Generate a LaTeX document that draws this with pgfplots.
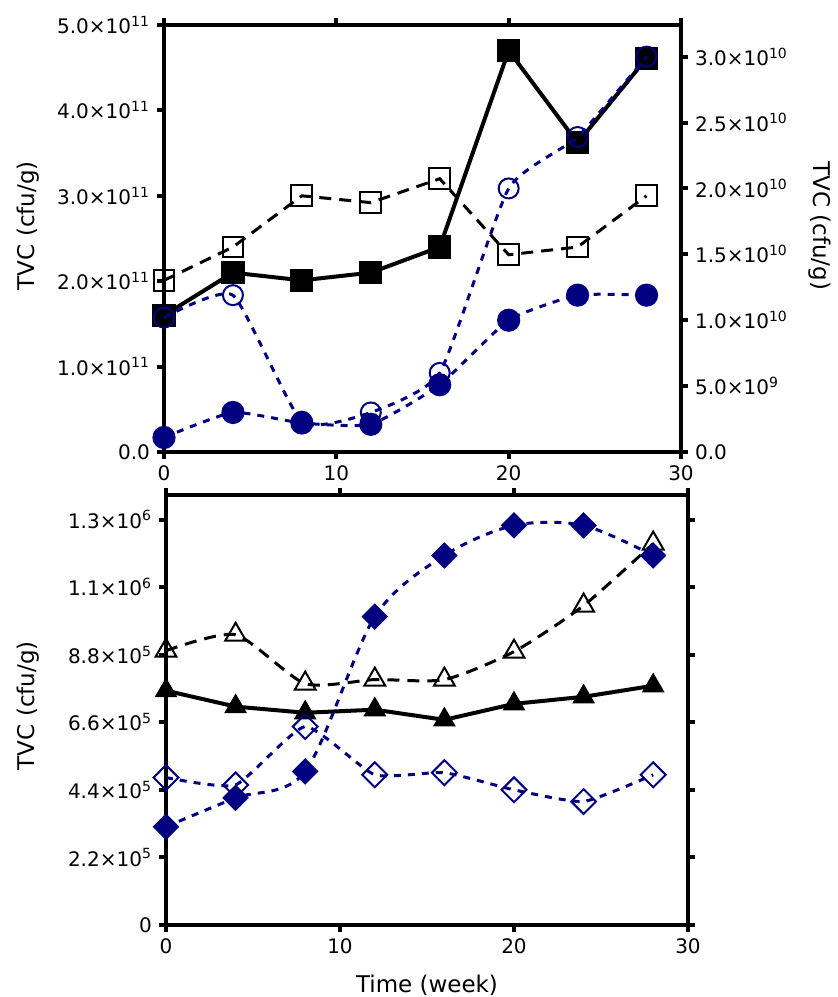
\documentclass[border=0pt]{standalone}
\usepackage{fontspec}
\setmainfont{DejaVu Sans}
\usepackage{pgfplots}
\pgfplotsset{compat=1.18}
\definecolor{navyblue}{HTML}{000080}

\newcommand{\sci}[2]{#1×10\textsuperscript{#2}}

\pgfplotsset{
  panel/.style={
    scale only axis,
    xmin=0, xmax=30,
    xtick={0,10,20,30},
    xticklabels={0,10,20,30},
    tick align=outside,
    major tick length=3.5pt,
    every tick/.append style={line width=2pt, black},
    axis line style={line width=2pt},
    tick label style={font=\fontsize{10}{12}\selectfont},
    label style={font=\fontsize{11.5}{13}\selectfont},
    scaled ticks=false,
    clip=false,
  },
  blk/.style={black, line width=2pt, mark options={solid, fill=black, line width=0.6pt}},
  blkdash/.style={black, line width=1.5pt, dash pattern=on 6pt off 4pt,
    mark options={solid, line width=1pt}},
  bluefill/.style={navyblue, line width=1.5pt, dash pattern=on 3.5pt off 3.5pt,
    mark options={solid, fill=navyblue, line width=0.6pt}},
  blueopen/.style={navyblue, line width=1.5pt, dash pattern=on 3.5pt off 3.5pt,
    mark options={solid, line width=1pt}},
}

\begin{document}
\begin{tikzpicture}
\path[use as bounding box] (0pt,0pt) rectangle (419pt,498.5pt);

% top panel, left axis (black series)
\begin{axis}[panel,
  at={(82pt,272.5pt)}, anchor=south west,
  width=258.5pt, height=213.5pt,
  ymin=0, ymax=5e11,
  ytick={0,1e11,2e11,3e11,4e11,5e11},
  yticklabels={0.0,\sci{1.0}{11},\sci{2.0}{11},\sci{3.0}{11},\sci{4.0}{11},\sci{5.0}{11}},
  xtick pos=both, xticklabel pos=lower,
  ytick pos=left, yticklabel pos=left,
  ylabel={TVC (cfu/g)},
  ylabel style={at={(axis description cs:-0.263,0.53)}, anchor=center},
]
\addplot[blkdash, mark=square, mark size=5.2pt] coordinates {
  (0,2.01e11) (4,2.40e11) (8,3.00e11) (12,2.92e11)
  (16,3.20e11) (20,2.31e11) (24,2.40e11) (28,3.00e11)};
\addplot[blk, mark=square*, mark size=5.5pt] coordinates {
  (0,1.60e11) (4,2.10e11) (8,2.01e11) (12,2.10e11)
  (16,2.40e11) (20,4.70e11) (24,3.62e11) (28,4.61e11)};
\end{axis}

% top panel, right axis (blue series)
\begin{axis}[panel,
  at={(82pt,272.5pt)}, anchor=south west,
  width=258.5pt, height=213.5pt,
  ymin=0, ymax=3.24e10,
  ytick={0,0.5e10,1e10,1.5e10,2e10,2.5e10,3e10},
  yticklabels={0.0,\sci{5.0}{9},\sci{1.0}{10},\sci{1.5}{10},\sci{2.0}{10},\sci{2.5}{10},\sci{3.0}{10}},
  xtick=\empty,
  ytick pos=right, yticklabel pos=right,
  axis line style={draw=none},
  ylabel={TVC (cfu/g)},
  ylabel style={at={(axis description cs:1.269,0.53)}, anchor=center, rotate=180},
]
\addplot[blueopen, smooth, tension=0.3, mark=o, mark size=5pt] coordinates {
  (0,1.02e10) (4,1.19e10) (8,0.23e10) (12,0.30e10)
  (16,0.60e10) (20,2.00e10) (24,2.39e10) (28,3.00e10)};
\addplot[bluefill, smooth, tension=0.3, mark=*, mark size=5.5pt] coordinates {
  (0,0.11e10) (4,0.30e10) (8,0.22e10) (12,0.21e10)
  (16,0.51e10) (20,1.00e10) (24,1.19e10) (28,1.19e10)};
\end{axis}

% bottom panel
\begin{axis}[panel,
  at={(83pt,36pt)}, anchor=south west,
  width=261pt, height=215pt,
  ymin=0, ymax=1.4e6,
  ytick={0,2.2e5,4.4e5,6.6e5,8.8e5,11e5,13.2e5},
  yticklabels={0,\sci{2.2}{5},\sci{4.4}{5},\sci{6.6}{5},\sci{8.8}{5},\sci{1.1}{6},\sci{1.3}{6}},
  xtick pos=both, xticklabel pos=lower,
  ytick pos=both, yticklabel pos=left,
  xlabel={Time (week)},
  xlabel style={at={(axis description cs:0.5,0)}, yshift=-30pt, anchor=center},
  ylabel={TVC (cfu/g)},
  ylabel style={at={(axis description cs:-0.264,0.51)}, anchor=center},
]
\addplot[blk, mark=triangle*, mark size=6pt] coordinates {
  (0,7.63e5) (4,7.11e5) (8,6.91e5) (12,7.01e5)
  (16,6.68e5) (20,7.20e5) (24,7.43e5) (28,7.79e5)};
\addplot[blkdash, smooth, tension=0.4, mark=triangle, mark size=6pt] coordinates {
  (0,8.93e5) (4,9.45e5) (8,7.86e5) (12,7.99e5)
  (16,7.99e5) (20,8.90e5) (24,10.40e5) (28,12.42e5)};
\addplot[blueopen, smooth, tension=0.3, mark=square, mark size=4.4pt,
  mark options={solid, line width=1pt, rotate=45}] coordinates {
  (0,4.80e5) (4,4.56e5) (8,6.46e5) (12,4.89e5)
  (16,4.96e5) (20,4.40e5) (24,4.02e5) (28,4.89e5)};
\addplot[bluefill, smooth, tension=0.5, mark=square*, mark size=4.4pt,
  mark options={solid, fill=navyblue, line width=0.6pt, rotate=45}] coordinates {
  (0,3.20e5) (4,4.14e5) (8,5.00e5) (12,10.04e5)
  (16,12.03e5) (20,13.01e5) (24,13.01e5) (28,12.03e5)};
\end{axis}
\end{tikzpicture}
\end{document}
